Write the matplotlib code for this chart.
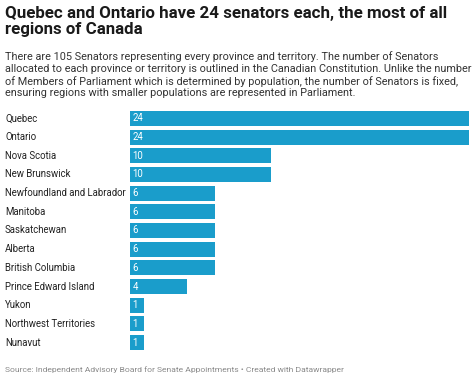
import matplotlib.pyplot as plt
from matplotlib.transforms import blended_transform_factory

regions = ["Quebec", "Ontario", "Nova Scotia", "New Brunswick",
           "Newfoundland and Labrador", "Manitoba", "Saskatchewan", "Alberta",
           "British Columbia", "Prince Edward Island", "Yukon",
           "Northwest Territories", "Nunavut"]
senators = [24, 24, 10, 10, 6, 6, 6, 6, 6, 4, 1, 1, 1]

title = "Quebec and Ontario have 24 senators each, the most of all\nregions of Canada"
subtitle = ("There are 105 Senators representing every province and territory. The number of Senators\n"
            "allocated to each province or territory is outlined in the Canadian Constitution. Unlike the number\n"
            "of Members of Parliament which is determined by population, the number of Senators is fixed,\n"
            "ensuring regions with smaller populations are represented in Parliament.")
source = "Source: Independent Advisory Board for Senate Appointments \u2022 Created with Datawrapper"

plt.rcParams['font.family'] = ['Roboto', 'DejaVu Sans']

W, H = 474, 379
fig = plt.figure(figsize=(W / 100, H / 100), dpi=100)
fig.patch.set_facecolor('white')

def fx(px):
    return px / W

def fy(py):
    return 1 - py / H

fig.text(fx(5), fy(6), title, fontsize=12.2, fontweight='bold', color='#1a1a1a',
         ha='left', va='top', linespacing=1.12)
fig.text(fx(5), fy(51), subtitle, fontsize=7.85, color='#333333',
         ha='left', va='top', linespacing=1.22)
fig.text(fx(5), fy(370), source, fontsize=6.1, color='#8a8a8a',
         ha='left', va='center')

# axes: 0..24 maps to 130..469 px, rows centered 118.3 .. 342.7
top, bottom = 109.0, 352.0
ax = fig.add_axes([fx(130), fy(bottom), fx(469 - 130), (bottom - top) / H])
y = list(range(len(regions)))
ax.barh(y, senators, height=0.8, color='#1a9dcb', edgecolor='none')
ax.set_xlim(0, 24)
ax.set_ylim(len(regions) - 0.5, -0.5)
ax.axis('off')

lab_tr = blended_transform_factory(fig.transFigure, ax.transData)
for i, (name, v) in enumerate(zip(regions, senators)):
    ax.text(fx(5), i, name, transform=lab_tr, fontsize=6.9, color='#222222',
            ha='left', va='center')
    ax.text(0.18, i, str(v), fontsize=6.9, color='white', ha='left', va='center')

fig.savefig('out.png', dpi=100)
